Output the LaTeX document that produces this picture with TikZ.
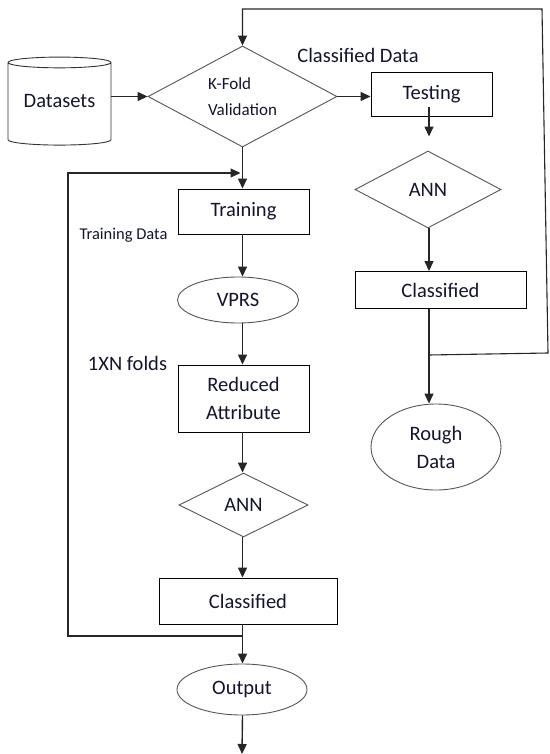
\documentclass[tikz,border=0pt]{standalone}
\usepackage{fontspec}
\setmainfont{Carlito}
\usepackage{tikz}
\usetikzlibrary{arrows.meta,shapes.geometric}
\definecolor{txt}{RGB}{20,20,45}
\definecolor{edge}{RGB}{85,85,85}

\begin{document}
\begin{tikzpicture}[
  x=1pt, y=-1pt,
  every node/.style={text=txt, font=\fontsize{20.5}{28}\selectfont},
  box/.style={rectangle, draw=black, line width=0.9pt, inner sep=0pt},
  dia/.style={diamond, draw=edge, line width=0.9pt, aspect=1.85, inner sep=0pt},
  oval/.style={ellipse, draw=edge, line width=0.9pt, inner sep=0pt},
  db/.style={cylinder, shape border rotate=90, draw=black!80,
    line width=0.9pt, aspect=0.15, inner sep=0pt},
  arr/.style={-{Triangle[length=10pt, width=9pt]}, line width=1.4pt, draw=black!85}
]
  \useasboundingbox (0,0) rectangle (549,754);
  % nodes
  \node[db, minimum width=103, minimum height=88] (data) at (59.5,104) {\raisebox{6pt}{Datasets}};
  \node[dia, minimum width=189, minimum height=101, align=left,
    font=\fontsize{17}{26}\selectfont] (kfold) at (242.5,96.5) {K-Fold\\Validation};
  \node[box, minimum width=121, minimum height=44] (test) at (431.5,94) {Testing};
  \node[dia, minimum width=146, minimum height=77] (ann2) at (428,189.5) {ANN};
  \node[box, minimum width=171, minimum height=37] (cls2) at (440.5,290) {Classified};
  \node[oval, minimum width=130, minimum height=86, align=center] (rough) at (436,447) {Rough\\Data};
  \node[box, minimum width=131, minimum height=45] (train) at (243.5,211.5) {Training};
  \node[oval, minimum width=121, minimum height=46] (vprs) at (238,300) {VPRS};
  \node[box, minimum width=131, minimum height=67, align=center] (red) at (243.5,398.5) {Reduced\\Attribute};
  \node[dia, minimum width=129, minimum height=64] (ann1) at (243.5,505) {ANN};
  \node[box, minimum width=178, minimum height=46] (cls1) at (248,601) {Classified};
  \node[oval, minimum width=130, minimum height=51] (out) at (242,689.5) {Output};
  % labels
  \node (cdata) at (358,55) {Classified Data};
  \node[font=\fontsize{16.5}{20}\selectfont] (tdata) at (123.5,235) {Training Data};
  \node (folds) at (127.5,363) {1XN folds};
  % loop points
  \coordinate (fb1) at (68,636);
  \coordinate (fb2) at (68,173);
  \coordinate (jn) at (429,355);
  \coordinate (rb) at (548,353);
  \coordinate (rt) at (542,9);
  \coordinate (end) at (242,754);
  % connectors
  \draw[arr] (data.east |- kfold) -- (kfold.west);
  \draw[arr] (kfold.east) -- (test.west |- kfold.east);
  \draw[arr, shorten <=-9pt, shorten >=14pt] (test.south -| jn) -- (ann2.north -| jn);
  \foreach \a/\b in {kfold/train, train/vprs, vprs/red, red/ann1, ann1/cls1, cls1/out}
    \draw[arr] (\a.south -| kfold.south) -- (\b.north -| kfold.south);
  \draw[arr] (out.south -| kfold.south) -- (end);
  \foreach \a/\b in {ann2/cls2, cls2/rough}
    \draw[arr] (\a.south -| jn) -- (\b.north -| jn);
  \draw[arr, line width=1.1pt, shorten >=2pt] (fb1 -| kfold.south) -- (fb1) -- (fb2) -- (fb2 -| kfold.south);
  \draw[arr, line width=1.1pt] (jn) -- (rb) -- (rt) -- (rt -| kfold.north) -- (kfold.north);
\end{tikzpicture}
\end{document}
